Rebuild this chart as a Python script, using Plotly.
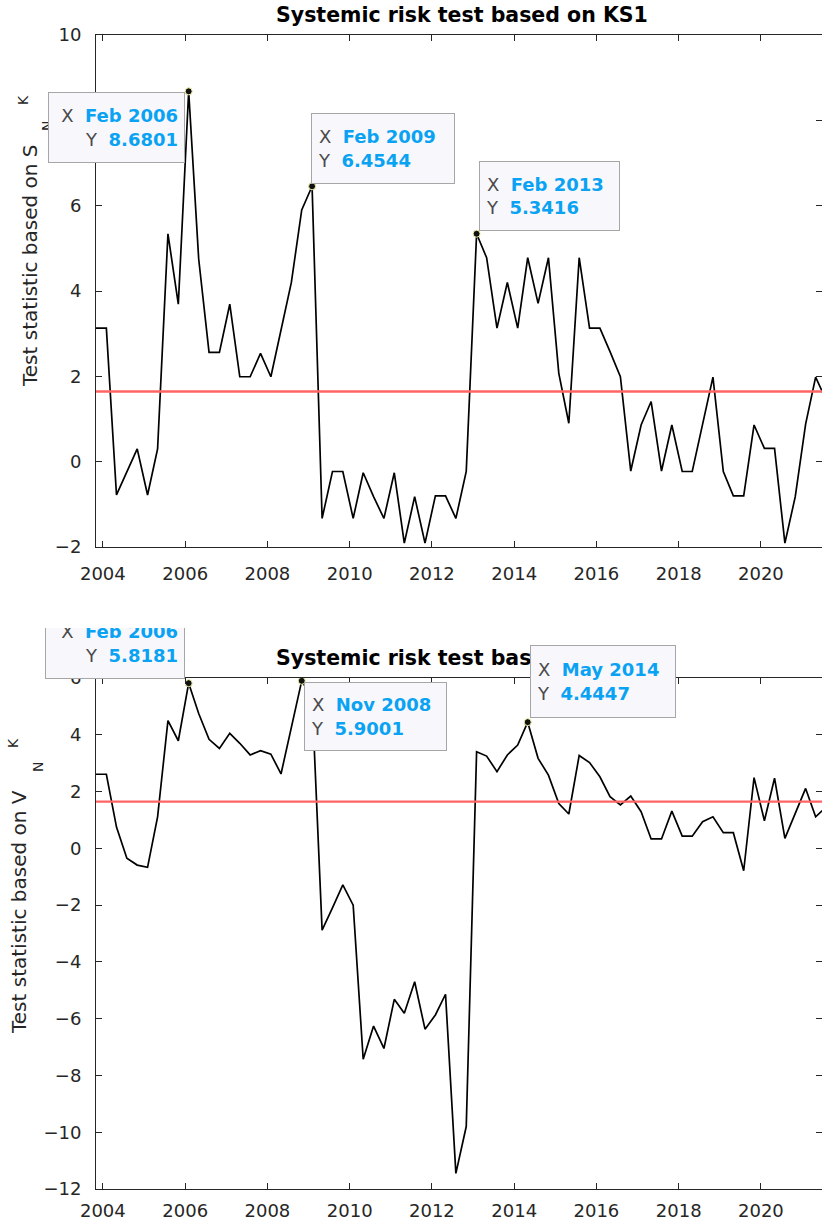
import pandas as pd
import plotly.graph_objects as go

# Quarterly observation dates (Feb / May / Aug / Nov)
dates = pd.date_range("2003-11-01", "2021-08-01", freq="3MS")

# Test statistic based on S_N^K
s_stat = [
    3.13,
    3.13, -0.78, -0.24, 0.30,
    -0.78, 0.30, 5.34, 3.69,
    8.6801, 4.75, 2.56, 2.56,
    3.69, 1.99, 1.99, 2.54,
    1.99, 3.10, 4.20, 5.90,
    6.4544, -1.33, -0.23, -0.23,
    -1.33, -0.26, -0.82, -1.33,
    -0.26, -1.91, -0.82, -1.91,
    -0.80, -0.80, -1.33, -0.23,
    5.3416, 4.78, 3.13, 4.20,
    3.13, 4.78, 3.71, 4.78,
    2.07, 0.90, 4.78, 3.13,
    3.13, 2.58, 1.99, -0.22,
    0.86, 1.41, -0.22, 0.86,
    -0.23, -0.23, 0.86, 1.98,
    -0.23, -0.80, -0.80, 0.86,
    0.31, 0.31, -1.91, -0.82,
    0.88, 1.98, 1.45,
]

# Test statistic based on V_N^K
v_stat = [
    2.61,
    2.61, 0.75, -0.35, -0.59,
    -0.67, 1.11, 4.50, 3.79,
    5.8181, 4.75, 3.84, 3.52,
    4.05, 3.70, 3.29, 3.44,
    3.32, 2.62, 4.30, 5.9001,
    5.30, -2.88, -2.10, -1.29,
    -2.00, -7.43, -6.26, -7.05,
    -5.32, -5.81, -4.70, -6.37,
    -5.87, -5.14, -11.45, -9.80,
    3.40, 3.25, 2.70, 3.29,
    3.64, 4.4447, 3.17, 2.58,
    1.58, 1.21, 3.27, 3.02,
    2.52, 1.82, 1.53, 1.84,
    1.29, 0.33, 0.33, 1.31,
    0.43, 0.43, 0.94, 1.11,
    0.55, 0.55, -0.79, 2.49,
    0.97, 2.47, 0.35, 1.23,
    2.11, 1.11, 1.45,
]

critical_value = 1.645

# Highlighted data tips (indices into the quarterly series)
s_tips = [9, 21, 37]
v_tips = [9, 20, 42]

y_ticks_s = [-2, 0, 2, 4, 6, 8, 10]
y_ticks_v = [-12, -10, -8, -6, -4, -2, 0, 2, 4, 6]

FONT = "DejaVu Sans"
AXIS_COLOR = "#262626"
TIP_BLUE = "#0aa2f2"
TIP_GREY = "#4a4a4a"

W, H = 822, 1224
ML, MT, MB = 96, 35, 35
PW = W - ML
PH = H - MT - MB


def px(xp):
    return (xp - ML) / PW


def py(yp):
    return (H - MB - yp) / PH


fig = go.Figure()

fig.add_trace(go.Scatter(x=dates, y=s_stat, mode="lines",
                         line=dict(color="black", width=1.7),
                         xaxis="x", yaxis="y", showlegend=False))
fig.add_trace(go.Scatter(x=dates, y=v_stat, mode="lines",
                         line=dict(color="black", width=1.7),
                         xaxis="x2", yaxis="y2", showlegend=False))

marker_style = dict(color="#111111", size=7, line=dict(color="#f2f2a8", width=1))
fig.add_trace(go.Scatter(x=[dates[i] for i in s_tips], y=[s_stat[i] for i in s_tips],
                         mode="markers", marker=marker_style, cliponaxis=False,
                         xaxis="x", yaxis="y", showlegend=False))
fig.add_trace(go.Scatter(x=[dates[i] for i in v_tips], y=[v_stat[i] for i in v_tips],
                         mode="markers", marker=marker_style, cliponaxis=False,
                         xaxis="x2", yaxis="y2", showlegend=False))

# Critical value lines
for yref, xref in (("y", "x domain"), ("y2", "x2 domain")):
    fig.add_shape(type="line", xref=xref, yref=yref, x0=0, x1=1,
                  y0=critical_value, y1=critical_value,
                  line=dict(color="#ff6464", width=2.4), layer="above")

span = dates[-1] - dates[0]
x_range = [dates[0], dates[0] + span * (PW / 730.0)]

axis_common = dict(
    showline=True, linecolor=AXIS_COLOR, linewidth=1, mirror="ticks",
    ticks="inside", ticklen=6, tickcolor=AXIS_COLOR, tickwidth=1,
    showgrid=False, zeroline=False,
    tickfont=dict(family=FONT, size=18, color=AXIS_COLOR),
)

top_dom = [py(547), 1.0]
bot_dom = [0.0, py(678)]

fig.update_layout(
    width=W, height=H,
    margin=dict(l=ML, r=0, t=MT, b=MB),
    paper_bgcolor="white", plot_bgcolor="white",
    showlegend=False,
    xaxis=dict(domain=[0, 1], anchor="y", type="date", range=x_range,
               tick0="2004-01-01", dtick="M24", tickformat="%Y",
               ticklabelstandoff=10, **axis_common),
    yaxis=dict(domain=top_dom, anchor="x", range=[-2, 10],
               tickvals=y_ticks_s, ticklabelstandoff=10, **axis_common),
    xaxis2=dict(domain=[0, 1], anchor="y2", type="date", range=x_range,
                tick0="2004-01-01", dtick="M24", tickformat="%Y",
                ticklabelstandoff=5, **axis_common),
    yaxis2=dict(domain=bot_dom, anchor="x2", range=[-12, 6],
                tickvals=y_ticks_v, ticklabelstandoff=10, **axis_common),
)

annotations = []

# Panel titles
for text, yp in (("Systemic risk test based on KS1", 15),
                 ("Systemic risk test based on KS2", 658)):
    annotations.append(dict(
        xref="paper", yref="paper", x=px(462), y=py(yp),
        xanchor="center", yanchor="middle", showarrow=False,
        text=f"<b>{text}</b>",
        font=dict(family=FONT, size=20.5, color="black"),
    ))

# Y-axis labels with stacked sub/superscripts
label_font = dict(family=FONT, size=20, color=AXIS_COLOR)
small_font = dict(family=FONT, size=14, color=AXIS_COLOR)
for letter, cx, cy, kx, ky, nx, ny in (
    ("S", 30, 266, 23, 100, 47, 126),
    ("V", 19, 912, 13, 743, 38, 767),
):
    annotations.append(dict(xref="paper", yref="paper", x=px(cx), y=py(cy),
                            xanchor="center", yanchor="middle", showarrow=False,
                            textangle=-90, text=f"Test statistic based on {letter}",
                            font=label_font))
    annotations.append(dict(xref="paper", yref="paper", x=px(kx), y=py(ky),
                            xanchor="center", yanchor="middle", showarrow=False,
                            textangle=-90, text="K", font=small_font))
    annotations.append(dict(xref="paper", yref="paper", x=px(nx), y=py(ny),
                            xanchor="center", yanchor="middle", showarrow=False,
                            textangle=-90, text="N", font=small_font))


def tip_text(i, series):
    d = dates[i].strftime("%b %Y")
    v = f"{series[i]:.4f}"
    return (f"<span style='color:{TIP_GREY}'>X</span>  "
            f"<b><span style='color:{TIP_BLUE}'>{d}</span></b><br>"
            f"<span style='color:{TIP_GREY}'>Y</span>  "
            f"<b><span style='color:{TIP_BLUE}'>{v}</span></b>")


TIP_PAD = 6


def tip_box(i, series, x0, y0, x1, y1, align):
    return dict(xref="paper", yref="paper",
                x=px((x0 + x1) / 2), y=py((y0 + y1) / 2),
                xanchor="center", yanchor="middle", showarrow=False,
                width=x1 - x0 - 2 * TIP_PAD - 2, height=y1 - y0 - 2 * TIP_PAD - 2,
                align=align, valign="middle",
                text=tip_text(i, series),
                font=dict(family=FONT, size=18, color=TIP_GREY),
                bgcolor="#f8f8fc", bordercolor="#a6a6a6", borderwidth=1,
                borderpad=TIP_PAD)


annotations += [
    tip_box(s_tips[0], s_stat, 48, 92, 185, 163, "right"),
    tip_box(s_tips[1], s_stat, 311, 113, 455, 184, "left"),
    tip_box(s_tips[2], s_stat, 479, 161, 620, 231, "left"),
    tip_box(v_tips[0], v_stat, 45, 608, 185, 679, "right"),
    tip_box(v_tips[1], v_stat, 304, 682, 447, 751, "left"),
    tip_box(v_tips[2], v_stat, 530, 645, 676, 718, "left"),
]

# Blank band where the lower panel's upper edge ends
annotations.append(dict(xref="paper", yref="paper", x=px(115), y=py(608),
                        xanchor="center", yanchor="middle", showarrow=False,
                        text=" ", width=180, height=40, bgcolor="white",
                        borderwidth=0, borderpad=0))

fig.update_layout(annotations=annotations)

fig.write_html("out.html")
